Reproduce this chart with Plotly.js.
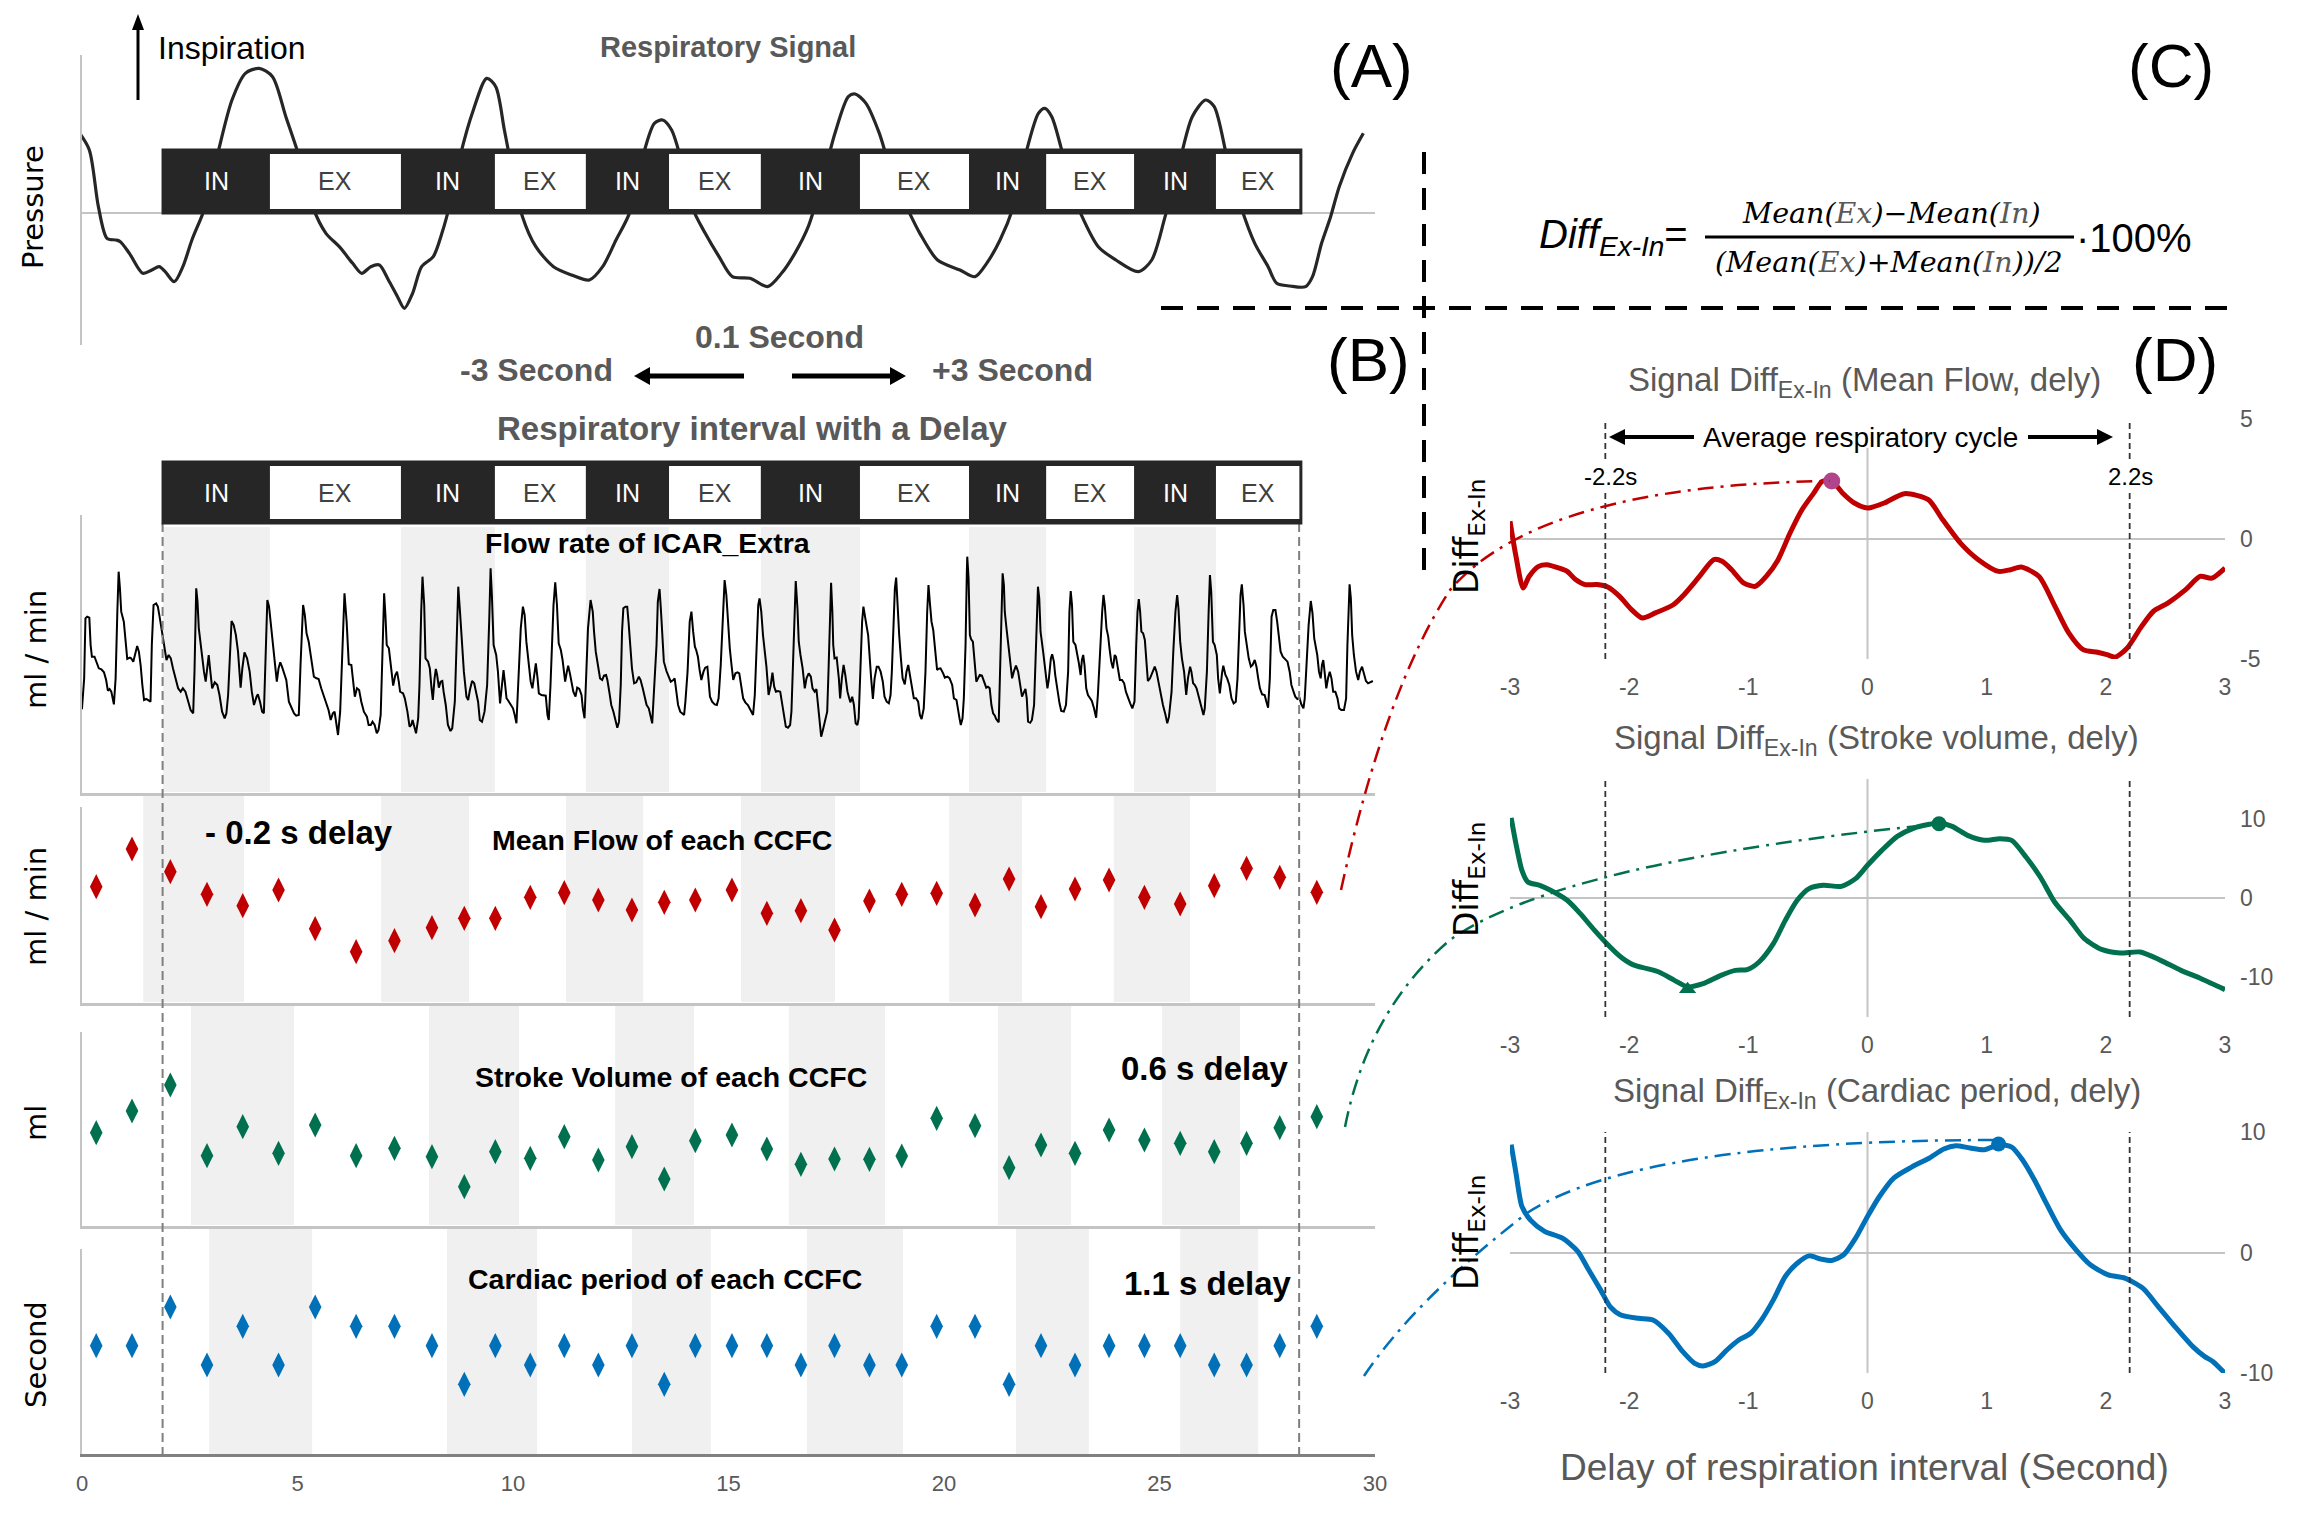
<!DOCTYPE html>
<html>
<head>
<meta charset="utf-8">
<script src="https://cdn.plot.ly/plotly-3.0.1.min.js"></script>
<style>html,body{margin:0;padding:0;background:#fff;}#chart{width:2299px;height:1517px;}</style>
</head>
<body>
<div id="chart"></div>
<script>
// ---------------- DATA ----------------
// (A) respiratory pressure signal: [time s, pressure a.u.]
const respSamples = [[-0.08,2.45],[0.17,1.90],[0.38,0.20],[0.58,-0.75],[0.79,-0.80],[0.89,-0.85],[1.10,-1.20],[1.41,-1.80],[1.62,-1.70],[1.79,-1.60],[1.93,-1.75],[2.14,-2.05],[2.34,-1.60],[2.55,-0.80],[2.86,0.20],[3.17,1.90],[3.48,3.40],[3.79,4.20],[4.11,4.35],[4.42,4.10],[4.73,2.90],[5.04,1.70],[5.35,0.20],[5.66,-0.60],[5.97,-1.00],[6.28,-1.50],[6.49,-1.80],[6.70,-1.60],[6.90,-1.55],[7.11,-2.00],[7.32,-2.50],[7.48,-2.85],[7.67,-2.40],[7.88,-1.60],[8.15,-1.30],[8.35,-0.60],[8.56,0.40],[8.77,1.70],[9.08,3.10],[9.39,4.05],[9.60,3.80],[9.80,2.50],[10.01,1.10],[10.22,-0.10],[10.53,-1.00],[10.94,-1.60],[11.36,-1.85],[11.77,-2.00],[12.08,-1.60],[12.39,-0.80],[12.70,0.00],[13.01,1.70],[13.28,2.70],[13.47,2.80],[13.68,2.50],[13.88,1.70],[14.15,0.20],[14.46,-0.60],[14.78,-1.30],[15.09,-1.90],[15.50,-1.95],[15.91,-2.20],[16.23,-1.80],[16.54,-1.20],[16.85,-0.40],[17.16,0.90],[17.47,2.40],[17.78,3.50],[17.94,3.58],[18.19,3.30],[18.50,2.40],[18.81,1.10],[19.13,0.20],[19.44,-0.60],[19.85,-1.40],[20.37,-1.70],[20.72,-1.90],[20.99,-1.50],[21.30,-0.80],[21.61,0.20],[21.92,1.90],[22.19,3.00],[22.34,3.15],[22.50,2.90],[22.71,2.00],[22.96,0.70],[23.17,0.00],[23.58,-1.00],[23.99,-1.40],[24.51,-1.75],[24.82,-1.40],[25.13,-0.10],[25.44,1.40],[25.76,2.90],[26.07,3.40],[26.27,3.20],[26.58,1.60],[26.89,0.20],[27.21,-0.90],[27.52,-1.60],[27.72,-2.10],[28.03,-2.18],[28.39,-2.20],[28.55,-1.90],[28.76,-0.90],[28.97,-0.10],[29.17,0.80],[29.48,1.80],[29.73,2.40]];

// respiratory phase boundaries (s): IN, EX, IN, EX ...
const phaseEdges = [1.88,4.36,7.40,9.58,11.69,13.62,15.75,18.05,20.58,22.37,24.41,26.31,28.28];
const phaseLabels = ['IN','EX','IN','EX','IN','EX','IN','EX','IN','EX','IN','EX'];

// (B) flow rate of ICAR_Extra: [time s, flow a.u.]
const flowSamples = [[-0.05,15.3],[0.00,15.5],[0.05,24.5],[0.08,42.5],[0.12,43.0],[0.17,42.7],[0.20,34.5],[0.23,31.0],[0.29,31.0],[0.33,29.5],[0.39,27.5],[0.45,27.2],[0.51,26.3],[0.56,24.0],[0.60,20.8],[0.64,21.3],[0.68,20.5],[0.74,16.7],[0.78,24.5],[0.82,44.5],[0.85,56.5],[0.88,51.5],[0.91,44.5],[0.97,41.5],[1.01,35.5],[1.05,30.3],[1.11,30.7],[1.14,30.5],[1.19,29.5],[1.24,32.5],[1.28,34.2],[1.32,32.5],[1.36,28.5],[1.40,22.5],[1.44,18.0],[1.49,18.3],[1.55,17.7],[1.59,17.5],[1.62,34.5],[1.66,46.5],[1.72,47.0],[1.76,46.0],[1.80,43.0],[1.86,38.5],[1.90,34.5],[1.96,30.0],[2.01,31.5],[2.06,30.5],[2.11,27.5],[2.17,24.5],[2.23,21.5],[2.29,20.5],[2.34,21.5],[2.40,20.5],[2.46,17.5],[2.52,15.0],[2.58,14.0],[2.61,26.5],[2.65,51.5],[2.68,47.5],[2.71,39.5],[2.77,32.5],[2.83,26.5],[2.87,23.5],[2.91,28.5],[2.94,31.5],[2.97,27.5],[3.02,21.5],[3.08,23.3],[3.14,22.5],[3.19,19.5],[3.25,14.5],[3.31,12.5],[3.35,14.0],[3.39,19.5],[3.43,31.5],[3.47,41.7],[3.52,40.5],[3.57,37.5],[3.62,32.5],[3.68,21.7],[3.72,27.5],[3.77,32.3],[3.83,30.5],[3.89,26.5],[3.94,20.5],[3.99,16.5],[4.05,19.0],[4.08,19.7],[4.13,17.5],[4.18,14.5],[4.22,14.0],[4.25,28.5],[4.30,48.0],[4.34,46.0],[4.38,40.5],[4.43,35.5],[4.47,29.5],[4.52,23.5],[4.56,27.5],[4.60,29.3],[4.64,28.0],[4.69,26.0],[4.74,24.0],[4.80,17.5],[4.86,15.5],[4.92,14.0],[4.97,13.3],[5.03,13.5],[5.07,28.5],[5.13,46.5],[5.17,43.5],[5.21,38.0],[5.26,35.5],[5.32,29.5],[5.38,25.0],[5.44,24.5],[5.49,24.3],[5.55,21.5],[5.62,19.0],[5.68,17.0],[5.72,15.0],[5.77,12.0],[5.82,14.0],[5.86,14.5],[5.90,10.5],[5.94,7.5],[5.99,14.5],[6.03,31.5],[6.09,50.0],[6.14,41.5],[6.19,28.7],[6.25,28.5],[6.30,22.5],[6.33,19.0],[6.38,21.5],[6.43,21.0],[6.48,17.5],[6.54,14.5],[6.61,13.0],[6.65,10.5],[6.70,10.5],[6.74,11.5],[6.79,10.5],[6.84,8.0],[6.88,9.0],[6.93,13.5],[6.97,31.5],[7.01,50.0],[7.04,43.5],[7.07,34.5],[7.12,33.5],[7.18,26.5],[7.22,22.3],[7.27,25.5],[7.31,26.5],[7.35,23.5],[7.38,20.5],[7.45,20.0],[7.49,18.5],[7.55,14.5],[7.60,10.0],[7.64,10.5],[7.67,12.0],[7.70,10.5],[7.75,8.0],[7.80,12.5],[7.83,22.5],[7.87,44.5],[7.90,55.0],[7.94,46.5],[7.97,30.5],[8.03,29.5],[8.07,27.5],[8.11,21.5],[8.14,18.0],[8.18,24.5],[8.21,27.3],[8.24,25.5],[8.28,21.7],[8.32,23.5],[8.36,23.7],[8.39,20.5],[8.44,16.5],[8.49,10.5],[8.55,8.7],[8.59,9.5],[8.65,17.5],[8.69,34.5],[8.73,52.0],[8.77,44.5],[8.82,35.5],[8.86,26.5],[8.92,19.0],[8.96,18.0],[9.00,21.0],[9.05,23.7],[9.10,23.0],[9.14,20.5],[9.19,17.5],[9.23,12.0],[9.28,11.5],[9.34,14.5],[9.40,22.5],[9.45,42.5],[9.48,57.5],[9.51,49.5],[9.55,34.5],[9.61,31.5],[9.65,26.5],[9.70,17.0],[9.73,20.5],[9.78,27.0],[9.81,23.5],[9.85,18.5],
[9.88,18.0],[9.95,16.7],[10.00,15.5],[10.04,13.5],[10.08,11.0],[10.12,22.5],[10.18,39.5],[10.23,46.0],[10.27,43.5],[10.31,35.5],[10.36,28.5],[10.41,23.5],[10.45,21.5],[10.49,25.5],[10.53,29.0],[10.57,24.5],[10.60,20.0],[10.66,19.5],[10.72,19.5],[10.76,19.3],[10.80,13.5],[10.83,12.0],[10.87,22.5],[10.91,36.5],[10.94,46.5],[10.98,53.3],[11.02,46.5],[11.06,35.0],[11.11,33.0],[11.15,30.0],[11.18,26.0],[11.21,23.5],[11.25,26.5],[11.28,28.3],[11.32,26.0],[11.35,23.5],[11.40,20.5],[11.45,19.0],[11.49,21.7],[11.54,21.3],[11.59,19.5],[11.62,15.5],[11.66,12.5],[11.69,22.5],[11.74,39.5],[11.80,48.0],[11.85,44.5],[11.88,38.5],[11.92,32.5],[11.97,28.5],[12.02,24.5],[12.07,24.0],[12.11,25.3],[12.16,25.5],[12.19,24.0],[12.24,20.0],[12.28,16.5],[12.33,14.5],[12.37,12.5],[12.42,9.7],[12.46,11.5],[12.50,22.5],[12.53,38.5],[12.56,45.5],[12.61,46.0],[12.65,46.0],[12.68,41.5],[12.72,34.5],[12.76,27.5],[12.81,23.0],[12.86,23.3],[12.92,25.0],[12.96,24.0],[13.01,21.5],[13.06,18.3],[13.10,16.5],[13.15,15.5],[13.19,13.5],[13.23,11.0],[13.27,20.5],[13.33,34.5],[13.36,47.5],[13.40,51.3],[13.43,45.5],[13.47,36.5],[13.50,29.5],[13.56,26.7],[13.61,25.0],[13.66,23.5],[13.72,24.0],[13.75,24.5],[13.79,20.5],[13.83,16.5],[13.88,14.5],[13.92,14.0],[13.97,13.5],[14.00,17.5],[14.05,26.5],[14.10,41.5],[14.14,44.5],[14.18,38.5],[14.22,34.0],[14.25,33.0],[14.29,31.0],[14.33,27.0],[14.37,24.0],[14.42,26.5],[14.46,27.7],[14.51,28.0],[14.54,24.5],[14.57,19.0],[14.62,17.5],[14.68,16.7],[14.73,16.5],[14.77,18.5],[14.82,28.5],[14.87,44.5],[14.91,54.0],[14.95,49.5],[14.99,40.5],[15.03,33.5],[15.07,28.5],[15.11,24.0],[15.16,26.0],[15.21,26.3],[15.25,26.0],[15.30,22.5],[15.34,18.5],[15.39,17.3],[15.45,16.5],[15.51,15.0],[15.57,13.5],[15.61,19.5],[15.65,34.5],[15.69,46.5],[15.72,48.5],[15.76,44.5],[15.80,37.5],[15.84,33.5],[15.88,28.0],[15.93,19.5],[15.98,22.5],[16.02,26.2],[16.06,22.0],[16.10,20.5],[16.15,20.7],[16.20,20.5],[16.24,17.5],[16.29,13.5],[16.33,10.0],[16.38,9.7],[16.43,10.5],[16.46,14.5],[16.50,30.5],[16.54,46.5],[16.56,53.7],[16.60,45.5],[16.63,35.5],[16.67,31.5],[16.72,27.5],[16.77,21.5],[16.81,24.5],[16.86,26.0],[16.91,25.0],[16.95,21.5],[17.00,20.5],[17.04,21.3],[17.08,16.5],[17.12,10.0],[17.15,7.0],[17.19,9.0],[17.23,11.5],[17.29,14.5],[17.32,26.5],[17.36,44.5],[17.38,53.2],[17.41,44.5],[17.43,34.5],[17.46,30.5],[17.51,30.7],[17.56,24.5],[17.59,18.5],[17.63,24.5],[17.67,28.5],[17.71,25.5],[17.76,20.5],[17.80,18.5],[17.83,17.3],[17.87,19.0],[17.91,16.5],[17.95,11.0],[17.99,10.5],[18.02,12.5],[18.05,24.5],[18.10,41.5],[18.13,46.0],[18.16,44.0],[18.20,40.5],[18.24,37.5],[18.28,31.5],[18.31,24.5],[18.35,18.3],[18.39,24.5],[18.44,28.0],[18.48,28.0],[18.53,26.5],[18.58,23.5],[18.62,19.0],[18.67,17.5],[18.72,17.0],[18.76,19.5],[18.79,26.5],[18.83,39.5],[18.86,51.5],[18.89,54.7],[18.92,46.5],[18.96,37.5],[19.00,30.5],[19.04,24.5],[19.09,22.7],[19.13,26.5],[19.17,28.5],[19.21,25.5],[19.26,22.5],[19.30,18.5],[19.35,18.5],[19.40,17.5],[19.44,13.5],[19.48,12.3],[19.53,15.5],[19.57,26.5],[19.61,44.5],[19.64,52.5],[19.67,47.5],[19.71,41.5],[19.75,39.0],[19.80,31.5],[19.84,27.0],
[19.86,27.3],[19.92,27.5],[19.98,26.0],[20.02,24.7],[20.08,25.0],[20.13,24.5],[20.19,22.5],[20.23,18.5],[20.29,18.0],[20.33,15.5],[20.36,12.5],[20.39,10.5],[20.43,12.5],[20.46,18.5],[20.50,34.5],[20.53,56.5],[20.54,61.0],[20.57,54.5],[20.60,37.5],[20.63,36.2],[20.67,35.5],[20.71,29.5],[20.75,23.5],[20.79,24.5],[20.83,25.5],[20.88,25.3],[20.93,23.5],[20.98,21.7],[21.02,22.0],[21.06,21.5],[21.10,16.5],[21.14,14.0],[21.18,13.3],[21.21,12.3],[21.27,11.3],[21.30,24.5],[21.33,44.5],[21.36,56.0],[21.39,52.5],[21.41,44.5],[21.45,39.5],[21.49,34.5],[21.53,29.0],[21.58,24.5],[21.62,26.5],[21.67,28.3],[21.72,26.5],[21.76,22.5],[21.81,19.0],[21.86,20.5],[21.89,21.3],[21.92,18.5],[21.95,11.5],[22.00,11.2],[22.04,12.0],[22.09,16.5],[22.14,34.5],[22.18,52.0],[22.21,48.5],[22.24,38.5],[22.30,32.5],[22.35,26.5],[22.40,21.5],[22.43,24.0],[22.48,30.5],[22.51,31.7],[22.55,29.5],[22.58,25.5],[22.63,20.5],[22.68,17.0],[22.72,14.7],[22.78,14.5],[22.83,16.5],[22.88,26.5],[22.91,44.5],[22.94,50.7],[22.97,46.5],[23.00,35.5],[23.05,34.5],[23.09,32.0],[23.13,29.0],[23.17,25.5],[23.20,30.0],[23.23,31.5],[23.26,28.5],[23.30,21.5],[23.34,19.5],[23.39,18.5],[23.43,17.7],[23.48,15.5],[23.53,12.7],[23.57,19.5],[23.62,34.5],[23.67,44.5],[23.70,49.5],[23.73,46.5],[23.77,39.5],[23.81,37.0],[23.84,33.5],[23.88,29.5],[23.92,27.5],[23.96,31.5],[23.99,31.0],[24.04,26.5],[24.08,24.0],[24.13,24.0],[24.18,23.0],[24.22,20.5],[24.27,18.5],[24.32,17.0],[24.37,15.5],[24.42,17.5],[24.46,34.5],[24.49,44.5],[24.52,48.3],[24.55,44.5],[24.58,38.5],[24.62,38.0],[24.66,36.0],[24.70,30.0],[24.73,23.7],[24.78,24.5],[24.83,26.0],[24.89,28.0],[24.93,26.5],[24.97,23.5],[25.03,20.0],[25.08,16.5],[25.14,13.5],[25.18,11.0],[25.22,13.0],[25.28,20.5],[25.32,32.5],[25.37,44.5],[25.41,49.5],[25.44,45.5],[25.48,35.5],[25.52,30.5],[25.57,26.5],[25.62,19.5],[25.66,24.5],[25.71,28.0],[25.74,26.5],[25.78,23.0],[25.82,22.5],[25.86,21.5],[25.92,18.5],[25.97,15.5],[26.02,13.5],[26.05,15.5],[26.10,26.5],[26.14,44.5],[26.17,55.5],[26.20,50.5],[26.24,35.5],[26.28,34.5],[26.33,31.5],[26.36,24.5],[26.40,20.0],[26.45,26.0],[26.48,28.3],[26.53,25.5],[26.57,24.5],[26.62,22.5],[26.67,18.5],[26.72,17.0],[26.77,17.5],[26.81,24.5],[26.85,39.5],[26.88,49.5],[26.91,52.7],[26.95,46.5],[26.98,38.5],[27.02,34.5],[27.07,30.5],[27.12,28.0],[27.16,28.5],[27.21,30.0],[27.25,28.0],[27.29,24.5],[27.33,21.5],[27.38,19.7],[27.44,19.5],[27.48,17.5],[27.52,15.7],[27.56,24.5],[27.60,43.0],[27.64,45.0],[27.69,45.0],[27.73,41.5],[27.77,36.5],[27.81,32.5],[27.86,31.0],[27.90,30.5],[27.97,29.5],[28.02,26.5],[28.06,22.5],[28.11,20.5],[28.15,19.0],[28.20,18.3],[28.25,18.5],[28.29,16.7],[28.34,15.5],[28.37,18.5],[28.42,31.5],[28.46,40.5],[28.51,47.7],[28.55,44.0],[28.59,36.5],[28.63,34.0],[28.66,31.5],[28.70,26.5],[28.74,24.5],[28.77,28.5],[28.80,30.0],[28.83,26.5],[28.87,21.5],[28.91,24.5],[28.95,26.5],[28.99,24.5],[29.03,20.5],[29.08,20.5],[29.13,18.5],[29.17,15.5],[29.22,15.0],[29.28,15.0],[29.33,18.5],[29.36,34.5],[29.39,48.0],[29.41,52.7],[29.44,48.5],[29.47,37.5],[29.51,31.5],[29.56,26.5],[29.61,24.0],[29.65,26.5],[29.70,28.0],[29.74,26.0],[29.79,23.7],[29.84,23.0],[29.90,23.5],[29.95,23.7]];

// beat-by-beat values of each CCFC
const beatTime = [0.33,1.16,2.05,2.90,3.73,4.56,5.41,6.36,7.25,8.12,8.87,9.59,10.40,11.19,11.98,12.76,13.51,14.23,15.08,15.89,16.68,17.46,18.27,19.02,19.83,20.72,21.51,22.25,23.04,23.83,24.65,25.48,26.27,27.02,27.79,28.65];
const meanFlow = [38.0,49.3,42.5,35.7,32.3,37.0,25.4,18.5,21.8,25.7,28.5,28.5,34.8,36.2,34.0,31.0,33.3,34.0,37.0,30.0,30.8,25.0,33.7,35.7,36.0,32.5,40.3,32.0,37.3,40.0,34.8,32.8,38.3,43.5,40.8,36.3];
const strokeVol = [30.2,36.7,44.5,23.3,32.0,24.0,32.5,23.3,25.5,23.0,14.0,24.5,22.5,29.0,22.0,26.0,16.3,27.8,29.5,25.3,20.7,22.3,22.2,23.2,34.5,32.3,19.7,26.5,24.0,31.0,28.0,27.0,24.5,27.0,31.7,35.0];
const cardiacPeriod = [0.85,0.85,0.89,0.83,0.87,0.83,0.89,0.87,0.87,0.85,0.81,0.85,0.83,0.85,0.83,0.85,0.81,0.85,0.85,0.85,0.83,0.85,0.83,0.83,0.87,0.87,0.81,0.85,0.83,0.85,0.85,0.85,0.83,0.83,0.85,0.87];

// inspiration intervals shifted by each delay (grey bands), [start, end] s
const bandsFlow    = [[1.88,4.36],[7.40,9.58],[11.69,13.62],[15.75,18.05],[20.58,22.37],[24.41,26.31]];
const bandsMean    = [[1.42,3.76],[6.94,8.98],[11.23,13.02],[15.29,17.47],[20.12,21.81],[23.94,25.71]];
const bandsStroke  = [[2.53,4.92],[8.05,10.14],[12.37,14.20],[16.40,18.63],[21.25,22.95],[25.06,26.87]];
const bandsCardiac = [[2.95,5.34],[8.47,10.56],[12.76,14.59],[16.82,19.05],[21.67,23.36],[25.48,27.29]];
const windowEdges = [1.87, 28.24];

// (D) Diff Ex-In versus delay
const delayMF = [-3.0,-2.95,-2.89,-2.84,-2.76,-2.69,-2.59,-2.52,-2.45,-2.37,-2.27,-2.18,-2.08,-1.98,-1.89,-1.78,-1.63,-1.54,-1.41,-1.29,-1.22,-1.14,-1.04,-0.94,-0.85,-0.75,-0.65,-0.55,-0.45,-0.38,-0.30,-0.21,-0.11,0,0.14,0.31,0.51,0.63,0.78,0.93,1.10,1.20,1.29,1.44,1.56,1.69,1.81,1.93,2.01,2.08,2.18,2.30,2.40,2.52,2.67,2.79,2.89,3.0];
const diffMF  = [0.74,-0.72,-2.04,-1.56,-1.14,-1.07,-1.21,-1.35,-1.69,-1.90,-1.90,-2.0,-2.39,-2.94,-3.29,-3.08,-2.74,-2.32,-1.56,-0.86,-0.93,-1.28,-1.83,-1.97,-1.56,-0.86,0.25,1.22,1.92,2.40,2.42,1.92,1.50,1.29,1.50,1.89,1.64,0.81,-0.17,-0.86,-1.35,-1.28,-1.17,-1.56,-2.67,-3.92,-4.61,-4.72,-4.82,-4.92,-4.54,-3.64,-3.01,-2.67,-2.11,-1.56,-1.63,-1.21];
const delaySV = [-2.99,-2.95,-2.90,-2.85,-2.75,-2.66,-2.52,-2.41,-2.29,-2.16,-2.07,-1.97,-1.85,-1.75,-1.62,-1.51,-1.38,-1.23,-1.11,-1.01,-0.91,-0.79,-0.69,-0.59,-0.49,-0.37,-0.22,-0.10,0,0.12,0.25,0.39,0.52,0.60,0.71,0.84,0.98,1.11,1.21,1.33,1.45,1.57,1.70,1.82,1.97,2.12,2.29,2.46,2.63,2.80,3.0];
const diffSV  = [10.1,6.85,3.49,2.02,1.6,0.97,-0.29,-1.97,-4.08,-6.18,-7.44,-8.4,-8.9,-9.33,-10.38,-11.2,-10.8,-9.75,-9.12,-9.03,-8.07,-5.76,-2.82,-0.29,1.18,1.6,1.47,2.44,4.12,6.0,7.77,8.82,9.29,9.45,9.03,7.9,7.27,7.48,7.27,5.17,2.65,-0.5,-2.82,-5.13,-6.51,-6.93,-6.81,-7.86,-9.12,-10.17,-11.55];
const delayCP = [-2.99,-2.95,-2.90,-2.83,-2.71,-2.56,-2.43,-2.34,-2.24,-2.16,-2.07,-1.92,-1.80,-1.67,-1.55,-1.45,-1.38,-1.28,-1.18,-1.08,-0.98,-0.89,-0.79,-0.69,-0.59,-0.49,-0.39,-0.30,-0.20,-0.10,0,0.10,0.22,0.37,0.52,0.64,0.74,0.86,0.98,1.11,1.21,1.30,1.40,1.50,1.62,1.75,1.87,2.02,2.16,2.31,2.44,2.58,2.73,2.83,2.90,3.0];
const diffCP  = [8.95,6.6,3.82,2.71,1.75,1.19,0.08,-1.44,-3.1,-4.49,-5.18,-5.46,-5.6,-6.7,-8.23,-9.2,-9.42,-9.06,-8.09,-7.26,-6.7,-5.6,-3.93,-1.99,-0.89,-0.28,-0.55,-0.66,-0.19,1.19,2.99,4.65,6.18,7.09,7.84,8.59,8.86,8.67,8.53,8.95,8.75,7.7,6.04,4.1,1.88,0.22,-1.02,-1.86,-2.13,-2.96,-4.49,-6.15,-7.81,-8.64,-9.06,-10.03];
const peakMF = [-0.30, 2.42];
const peakSV = [0.60, 9.35];
const troughSV = [-1.51, -11.5];
const peakCP = [1.10, 9.0];
const cycleEdges = [-2.2, 2.2];
const leftTicks = [0,5,10,15,20,25,30];
const dTicks = [-3,-2,-1,0,1,2,3];

// ---------------- LAYOUT HELPERS ----------------
const W = 2299, H = 1517;
const px = x => x / W;
const py = y => 1 - y / H;
const SANS = 'Liberation Sans, Arial, sans-serif';
const WIDE = 'DejaVu Sans, Verdana, sans-serif';
const GREY = '#595959';
const RED = '#C00000', GREEN = '#00704F', BLUE = '#0070B8', MAG = '#B0458C';

function txt(text, x, y, size, opt) {
  opt = opt || {};
  return Object.assign({
    text: text, x: px(x), y: py(y), xref: 'paper', yref: 'paper', showarrow: false,
    xanchor: 'center', yanchor: 'middle',
    font: {family: opt.family || SANS, size: size, color: opt.color || '#000'}
  }, opt.extra || {});
}
function pathPx(pts) { // pts: [['M',x,y],['Q',cx,cy,x,y],...] in pixel space
  return pts.map(p => p[0] + (p.length > 1 ? ' ' + p.slice(1).map((v, i) => (i % 2 === 0 ? px(v) : py(v)).toFixed(5)).join(' ') : '')).join(' ');
}

const shapes = [];
// arrow as shapes: head (hx,hy), tail (tx,ty) in px
function arrowShape(hx, hy, tx, ty, w, L, hw) {
  const len = Math.hypot(hx - tx, hy - ty), ux = (hx - tx) / len, uy = (hy - ty) / len;
  const bx = hx - ux * L, by = hy - uy * L, nx = -uy, ny = ux;
  shapes.push({type: 'line', layer: 'above', xref: 'paper', yref: 'paper', x0: px(tx), y0: py(ty),
    x1: px(bx + ux * 2), y1: py(by + uy * 2), line: {color: '#000', width: w}});
  shapes.push({type: 'path', layer: 'above', xref: 'paper', yref: 'paper', fillcolor: '#000', line: {width: 0},
    path: pathPx([['M', hx, hy], ['L', bx + nx * hw, by + ny * hw], ['L', bx - nx * hw, by - ny * hw], ['Z']])});
}

// ---------------- TRACES ----------------
const traces = [];
traces.push({x: respSamples.map(p => p[0]), y: respSamples.map(p => p[1]), xaxis: 'x', yaxis: 'y',
  mode: 'lines', line: {color: '#262626', width: 3.2, shape: 'spline', smoothing: 0.8}, hoverinfo: 'skip'});
traces.push({x: flowSamples.map(p => p[0]), y: flowSamples.map(p => p[1]), xaxis: 'x2', yaxis: 'y2',
  mode: 'lines', line: {color: '#000', width: 2}, hoverinfo: 'skip'});
const diamond = c => ({symbol: 'diamond-tall', size: 18, color: c, line: {width: 0}});
traces.push({x: beatTime, y: meanFlow, xaxis: 'x3', yaxis: 'y3', mode: 'markers', marker: diamond(RED)});
traces.push({x: beatTime, y: strokeVol, xaxis: 'x4', yaxis: 'y4', mode: 'markers', marker: diamond(GREEN)});
traces.push({x: beatTime, y: cardiacPeriod, xaxis: 'x5', yaxis: 'y5', mode: 'markers', marker: diamond(BLUE)});

traces.push({x: delayMF, y: diffMF, xaxis: 'x6', yaxis: 'y6', mode: 'lines', line: {color: RED, width: 5, shape: 'spline', smoothing: 0.7}});
traces.push({x: [peakMF[0]], y: [peakMF[1]], xaxis: 'x6', yaxis: 'y6', mode: 'markers', marker: {size: 17, color: MAG}});
traces.push({x: delaySV, y: diffSV, xaxis: 'x7', yaxis: 'y7', mode: 'lines', line: {color: GREEN, width: 5, shape: 'spline', smoothing: 0.7}});
traces.push({x: [peakSV[0]], y: [peakSV[1]], xaxis: 'x7', yaxis: 'y7', mode: 'markers', marker: {size: 15, color: GREEN}});
traces.push({x: [troughSV[0]], y: [troughSV[1]], xaxis: 'x7', yaxis: 'y7', mode: 'markers', marker: {size: 15, color: GREEN, symbol: 'triangle-up'}});
traces.push({x: delayCP, y: diffCP, xaxis: 'x8', yaxis: 'y8', mode: 'lines', line: {color: BLUE, width: 5, shape: 'spline', smoothing: 0.7}});
traces.push({x: [peakCP[0]], y: [peakCP[1]], xaxis: 'x8', yaxis: 'y8', mode: 'markers', marker: {size: 15, color: BLUE}});

// ---------------- AXES ----------------
const leftDom = [px(82), px(1375)];
function lx(anchor, extra) {
  return Object.assign({domain: leftDom, range: [0, 30], anchor: anchor, showgrid: false, zeroline: false,
    showticklabels: false, ticks: '', showline: false}, extra || {});
}
function ly(anchor, top, bottom, range, extra) {
  return Object.assign({domain: [py(bottom), py(top)], range: range, anchor: anchor, showgrid: false, zeroline: false,
    showticklabels: false, ticks: '', showline: true, linecolor: '#c4c4c4', linewidth: 2}, extra || {});
}
const dDom = [px(1510), px(2225)];
function dx(anchor) {
  return {domain: dDom, range: [-3, 3], anchor: anchor, showgrid: false, zeroline: false, showline: false,
    ticks: '', tickvals: dTicks, ticktext: dTicks.map(String), ticklabelstandoff: 12,
    tickfont: {family: SANS, size: 23, color: GREY}};
}
function dy(anchor, top, bottom, range, tv) {
  return {domain: [py(bottom), py(top)], range: range, anchor: anchor, side: 'right', showgrid: false,
    zeroline: true, zerolinecolor: '#c4c4c4', zerolinewidth: 2, showline: false, ticks: '',
    tickvals: tv, ticktext: tv.map(String), ticklabelstandoff: 14,
    tickfont: {family: SANS, size: 23, color: GREY}};
}

const layout = {
  width: W, height: H, margin: {l: 0, r: 0, t: 0, b: 0, pad: 0},
  paper_bgcolor: '#fff', plot_bgcolor: 'rgba(0,0,0,0)', showlegend: false,
  xaxis: lx('y'),
  yaxis: ly('x', 55, 345, [-3.95, 4.75], {zeroline: true, zerolinecolor: '#c4c4c4', zerolinewidth: 2}),
  xaxis2: lx('y2', {showline: true, linecolor: '#c4c4c4', linewidth: 3}),
  yaxis2: ly('x2', 515, 793, [-9.9, 73.5]),
  xaxis3: lx('y3', {showline: true, linecolor: '#c4c4c4', linewidth: 3}),
  yaxis3: ly('x3', 807, 1003, [3.1, 61.9]),
  xaxis4: lx('y4', {showline: true, linecolor: '#c4c4c4', linewidth: 3}),
  yaxis4: ly('x4', 1032, 1226, [2.2, 60.4]),
  xaxis5: lx('y5', {showline: true, linecolor: '#808080', linewidth: 3, showticklabels: true,
    tickvals: leftTicks, ticklabelstandoff: 8, tickfont: {family: SANS, size: 22, color: GREY}}),
  yaxis5: ly('x5', 1249, 1454, [0.7379, 0.95]),
  xaxis6: dx('y6'), yaxis6: dy('x6', 419, 659, [-5, 5], [-5, 0, 5]),
  xaxis7: dx('y7'), yaxis7: dy('x7', 779, 1017, [-15, 15], [-10, 0, 10]),
  xaxis8: dx('y8'), yaxis8: dy('x8', 1132, 1373, [-10, 10], [-10, 0, 10]),
  shapes: shapes, annotations: []
};

const S = shapes, An = layout.annotations;

// grey inspiration bands
function bands(list, xref, top, bottom) {
  list.forEach(b => S.push({type: 'rect', layer: 'below', xref: xref, yref: 'paper', x0: b[0], x1: b[1],
    y0: py(bottom), y1: py(top), fillcolor: '#f0f0f0', line: {width: 0}}));
}
bands(bandsFlow, 'x2', 527, 792);
bands(bandsMean, 'x3', 794, 1002);
bands(bandsStroke, 'x4', 1004, 1225);
bands(bandsCardiac, 'x5', 1228, 1455);

// window dashed lines
windowEdges.forEach(t => S.push({type: 'line', layer: 'above', xref: 'x5', yref: 'paper', x0: t, x1: t,
  y0: py(1456), y1: py(523), line: {color: '#7f7f7f', width: 2, dash: '9px,5px'}}));

// IN / EX bars
function phaseBar(top, bottom) {
  const x0 = phaseEdges[0], x1 = phaseEdges[phaseEdges.length - 1];
  S.push({type: 'rect', layer: 'above', xref: 'x', yref: 'paper', x0: x0, x1: x1, y0: py(bottom), y1: py(top),
    fillcolor: '#262626', line: {width: 0}});
  phaseLabels.forEach((lab, i) => {
    const a = phaseEdges[i], b = phaseEdges[i + 1];
    if (lab === 'EX') {
      S.push({type: 'rect', layer: 'above', xref: 'x', yref: 'paper', x0: a, x1: b, y0: py(bottom - 4), y1: py(top + 4),
        fillcolor: '#fff', line: {width: 0}});
    }
    An.push({text: lab, x: (a + b) / 2, xref: 'x', y: py((top + bottom) / 2), yref: 'paper', showarrow: false,
      xanchor: 'center', yanchor: 'middle', font: {family: SANS, size: 25, color: lab === 'IN' ? '#fff' : '#404040'}});
  });
  S.push({type: 'rect', layer: 'above', xref: 'x', yref: 'paper', x0: x0, x1: x1, y0: py(bottom), y1: py(top),
    fillcolor: 'rgba(0,0,0,0)', line: {color: '#262626', width: 3}});
}
phaseBar(150, 213);
phaseBar(462, 523);

// D panel guides
[['x6', 'y6', -5, 5, 3.8], ['x7', 'y7', -15, 15, 15], ['x8', 'y8', -10, 10, 10]].forEach(d => {
  S.push({type: 'line', layer: 'below', xref: d[0], yref: d[1], x0: 0, x1: 0, y0: d[2], y1: d[4], line: {color: '#c4c4c4', width: 2}});
  cycleEdges.forEach(c => S.push({type: 'line', layer: 'above', xref: d[0], yref: d[1], x0: c, x1: c, y0: d[2], y1: d[3],
    line: {color: '#333', width: 1.8, dash: '6px,4px'}}));
});

// big dashed separators
S.push({type: 'line', layer: 'above', xref: 'paper', yref: 'paper', x0: px(1424), x1: px(1424), y0: py(152), y1: py(580),
  line: {color: '#000', width: 4, dash: '22px,14px'}});
S.push({type: 'line', layer: 'above', xref: 'paper', yref: 'paper', x0: px(1161), x1: px(2235), y0: py(308), y1: py(308),
  line: {color: '#000', width: 4, dash: '22px,14px'}});

// dash-dot connectors
const dd = '16px,7px,3px,7px';
S.push({type: 'path', layer: 'above', xref: 'paper', yref: 'paper', line: {color: RED, width: 2.5, dash: dd},
  path: pathPx([['M', 1341, 890], ['Q', 1385, 690, 1450, 590], ['Q', 1540, 485, 1830, 481]])});
S.push({type: 'path', layer: 'above', xref: 'paper', yref: 'paper', line: {color: GREEN, width: 2.5, dash: dd},
  path: pathPx([['M', 1345, 1127], ['Q', 1368, 1010, 1450, 940], ['Q', 1560, 862, 1937, 824]])});
S.push({type: 'path', layer: 'above', xref: 'paper', yref: 'paper', line: {color: BLUE, width: 2.5, dash: dd},
  path: pathPx([['M', 1364, 1376], ['Q', 1415, 1300, 1527, 1213], ['Q', 1640, 1140, 1998, 1140]])});

// arrows
arrowShape(138, 14, 138, 100, 3, 16, 6);
arrowShape(634, 376, 744, 376, 5, 16, 9);
arrowShape(906, 376, 792, 376, 5, 16, 9);
arrowShape(1609, 437, 1694, 437, 4, 16, 8);
arrowShape(2113, 437, 2028, 437, 4, 16, 8);

// ---------------- TEXT ----------------
An.push(txt('Inspiration', 156, 48, 32, {extra: {xanchor: 'left'}}));
An.push(txt('<b>Respiratory Signal</b>', 728, 47, 29, {color: GREY}));
An.push(txt('(A)', 1371, 66, 62));
An.push(txt('(B)', 1368, 359, 62));
An.push(txt('(C)', 2171, 66, 62));
An.push(txt('(D)', 2175, 359, 62));

An.push(txt('<b>0.1 Second</b>', 779, 337, 32, {color: GREY}));
An.push(txt('<b>-3 Second</b>', 536, 370, 32, {color: GREY}));
An.push(txt('<b>+3 Second</b>', 1013, 370, 32, {color: GREY}));
An.push(txt('<b>Respiratory interval with a Delay</b>', 752, 428, 33, {color: GREY}));

An.push(txt('<b>Flow rate of ICAR_Extra</b>', 648, 543, 28.5));
An.push(txt('<b>- 0.2 s delay</b>', 299, 833, 33));
An.push(txt('<b>Mean Flow of each CCFC</b>', 662, 840, 28.5));
An.push(txt('<b>Stroke Volume of each CCFC</b>', 671, 1077, 28.5));
An.push(txt('<b>0.6 s delay</b>', 1205, 1068, 33));
An.push(txt('<b>Cardiac period of each CCFC</b>', 665, 1279, 28.5));
An.push(txt('<b>1.1 s delay</b>', 1208, 1283, 33));

const rot = {extra: {textangle: -90}, family: WIDE};
An.push(txt('Pressure', 33, 207, 29, rot));
An.push(txt('ml / min', 36, 650, 29, rot));
An.push(txt('ml / min', 36, 907, 29, rot));
An.push(txt('ml', 36, 1123, 29, rot));
An.push(txt('Second', 36, 1355, 29, rot));

// formula
An.push(txt('<i>Diff</i><sub><i>Ex-In</i></sub>=', 1537, 237, 40, {extra: {xanchor: 'left'}}));
const g = s => '<span style="color:#595959">' + s + '</span>';
An.push(txt('<i>Mean(' + g('Ex') + ')−Mean(' + g('In') + ')</i>', 1891, 213, 28.5, {family: 'DejaVu Serif, serif'}));
An.push(txt('<i>(Mean(' + g('Ex') + ')+Mean(' + g('In') + '))/2</i>', 1889, 262, 28.5, {family: 'DejaVu Serif, serif'}));
S.push({type: 'line', layer: 'above', xref: 'paper', yref: 'paper', x0: px(1705), x1: px(2074), y0: py(237), y1: py(237),
  line: {color: '#000', width: 3}});
An.push(txt('·100%', 2074, 238, 40, {extra: {xanchor: 'left'}}));

// D panel texts
An.push(txt('Signal Diff<sub>Ex-In</sub> (Mean Flow, dely)', 1864, 382, 33, {color: GREY}));
An.push(txt('Signal Diff<sub>Ex-In</sub> (Stroke volume, dely)', 1876, 740, 33, {color: GREY}));
An.push(txt('Signal Diff<sub>Ex-In</sub> (Cardiac period, dely)', 1877, 1093, 33, {color: GREY}));
An.push(txt('Average respiratory cycle', 1860, 437, 28));
An.push(txt('-2.2s', 1610, 476, 24, {extra: {bgcolor: '#fff'}}));
An.push(txt('2.2s', 2130, 476, 24, {extra: {bgcolor: '#fff'}}));
An.push(txt('Diff<sub>Ex-In</sub>', 1468, 537, 33, rot));
An.push(txt('Diff<sub>Ex-In</sub>', 1468, 880, 33, rot));
An.push(txt('Diff<sub>Ex-In</sub>', 1468, 1233, 33, rot));
An.push(txt('Delay of respiration interval (Second)', 1864, 1467, 37, {color: GREY}));

Plotly.newPlot('chart', traces, layout, {staticPlot: true, displayModeBar: false});
</script>
</body>
</html>
